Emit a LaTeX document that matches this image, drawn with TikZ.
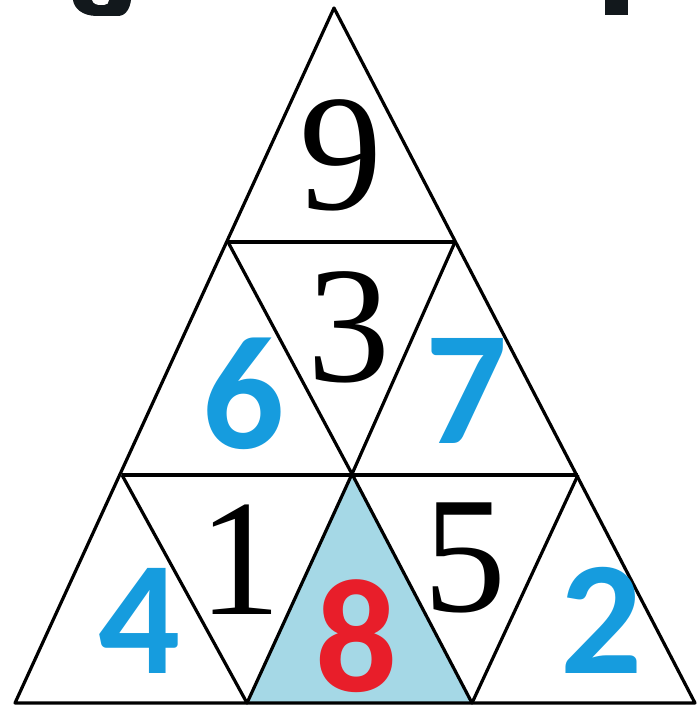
\documentclass[tikz,border=0pt]{standalone}
\usepackage{fontspec}
\usepackage{tikz}
\newfontfamily\digserif{Liberation Serif}
\newfontfamily\digsans{Carlito}
\definecolor{cellblue}{RGB}{165,216,230}
\definecolor{numblue}{RGB}{22,156,222}
\definecolor{numred}{RGB}{232,30,42}
\definecolor{inkdark}{RGB}{18,24,28}

\begin{document}
\begin{tikzpicture}[x=1pt, y=-1pt,
  edge/.style={line width=3.2pt, line join=round},
  given/.style={inner sep=0pt, font=\fontsize{166}{166}\selectfont\digserif},
  placed/.style={inner sep=0pt, text=numblue, font=\fontsize{162}{162}\selectfont\digsans\bfseries}]
  \useasboundingbox (0,0) rectangle (698,708);
  % ================================================================
  % cut-off heading at the top edge
  % ================================================================
  \fill[inkdark] (73,0) .. controls (74,8) and (82,16) .. (97,16) -- (118,16) .. controls (126,16) and (130,8) .. (131,0) -- cycle;
  \fill[white] (92,0) .. controls (93,4) and (97,5) .. (101,5) -- (104,5) .. controls (107,5) and (109,3) .. (109,0) -- cycle;
  \fill[inkdark] (605,0) rectangle (628,15);
  % ================================================================
  % lattice points
  % ================================================================
  \coordinate (A) at (334,8);
  \coordinate (B1) at (228,242);
  \coordinate (B2) at (455,242);
  \coordinate (C1) at (122,475);
  \coordinate (C2) at (352,474);
  \coordinate (C3) at (578,475);
  \coordinate (D1) at (15,703);
  \coordinate (D2) at (247,703);
  \coordinate (D3) at (472,703);
  \coordinate (D4) at (695,703);
  % shaded cell ----------------------------------------------------
  \fill[cellblue] (D2) -- (C2) -- (D3) -- cycle;
  % grid lines -----------------------------------------------------
  \draw[edge] (A) -- (D1) -- (D4) -- cycle;
  \draw[edge] (B1) -- (B2) (C1) -- (C3);
  \draw[edge] (B1) -- (C2) -- (B2);
  \draw[edge] (C1) -- (D2) -- (C2) -- (D3) -- (C3);
  % numbers --------------------------------------------------------
  \foreach \n/\p/\l in {n9/{341,155}/9, n3/{349,327}/3, n1/{240,560}/1, n5/{465,558}/5} {
    \node[given] (\n) at (\p) {\l};
  }
  \foreach \n/\p/\l in {n6/{244,394}/6, n7/{467,391}/7, n4/{140,621}/4, n2/{602,620}/2} {
    \node[placed] (\n) at (\p) {\l};
  }
  \node[placed, text=numred] (n8) at (357,636) {8};
\end{tikzpicture}
\end{document}
